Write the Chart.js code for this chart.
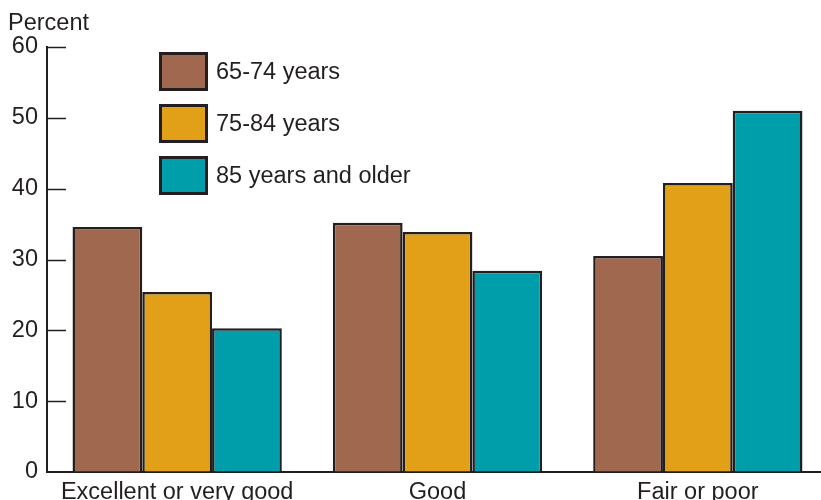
<!DOCTYPE html>
<html>
<head>
<meta charset="utf-8">
<script src="https://cdn.jsdelivr.net/npm/chart.js@4"></script>
<style>
  html, body { margin: 0; padding: 0; background: #fff; overflow: hidden; }
  #wrap { position: relative; width: 821px; height: 500px; overflow: hidden; }
  #holder { position: absolute; left: 0; top: 0; width: 840px; height: 500px; }
  .lbl { position: absolute; font-family: "Liberation Sans", Arial, sans-serif; color: #231f20; }
  #ytitle { left: 8px; top: 9px; font-size: 23.5px; }
  .leg { position: absolute; left: 159px; height: 39px; display: flex; align-items: center; }
  .leg .box { width: 43px; height: 33px; border: 3px solid #231f20; margin-right: 8px; }
  .leg span { font-family: "Liberation Sans", Arial, sans-serif; font-size: 23.5px; color: #231f20; }
</style>
</head>
<body>
<div id="wrap">
  <div id="holder"><canvas id="healthchart" width="840" height="500"></canvas></div>
  <div id="ytitle" class="lbl">Percent</div>
  <div id="legend"></div>
</div>
<script>
(function (glob) {
  'use strict';

  const categories = ['Excellent or very good', 'Good', 'Fair or poor']
  const seriesNames = ['65-74 years', '75-84 years', '85 years and older']
  const age65to74 = [34.6, 35.2, 30.5]
  const age75to84 = [25.4, 33.9, 40.8]
  const age85plus = [20.3, 28.4, 51.0]
  const seriesColors = ['#a0684f', '#e2a019', '#009daa']
  const yTicks = [0, 10, 20, 30, 40, 50, 60]

  const ink = '#231f20'
  const font = 'Liberation Sans, Arial, sans-serif'

  // legend as plain html, stacked like the original
  const legend = document.getElementById('legend')
  seriesNames.forEach((name, i) => {
    const row = document.createElement('div')
    row.className = 'leg'
    row.style.top = (52 + i * 52) + 'px'
    row.innerHTML = '<div class="box" style="background:' + seriesColors[i] + '"></div><span>' + name + '</span>'
    legend.appendChild(row)
  })

  // short tick marks pointing into the plot
  const innerTicks = {
    id: 'innerTicks',
    afterDraw(chart) {
      const y = chart.scales.y, left = chart.chartArea.left
      const c = chart.ctx
      c.save()
      c.strokeStyle = ink
      c.lineWidth = 1.5
      yTicks.forEach((v) => {
        if (v === 0) return
        const py = Math.round(y.getPixelForValue(v)) + 0.5
        c.beginPath()
        c.moveTo(left, py)
        c.lineTo(left + 19, py)
        c.stroke()
      })
      c.restore()
    }
  }

  const data = {
    labels: categories,
    datasets: [age65to74, age75to84, age85plus].map((vals, i) => ({
      label: seriesNames[i],
      data: vals,
      backgroundColor: seriesColors[i],
      borderColor: ink,
      borderWidth: 2.5,
      borderSkipped: 'bottom'
    }))
  }

  new Chart(document.getElementById('healthchart'), {
    type: 'bar',
    data: data,
    plugins: [innerTicks],
    options: {
      responsive: false,
      animation: false,
      datasets: { bar: { categoryPercentage: 0.804, barPercentage: 1.0 } },
      layout: { padding: { top: 47, right: 12, left: 0, bottom: 0 } },
      plugins: { legend: { display: false }, tooltip: { enabled: false } },
      scales: {
        x: {
          grid: { display: false, drawTicks: false },
          border: { display: true, color: ink, width: 2 },
          ticks: { color: ink, font: { family: font, size: 23.5 }, padding: 6, maxRotation: 0 },
          afterFit(scale) { scale.height = 28 }
        },
        y: {
          min: 0,
          max: 60,
          grid: { drawOnChartArea: false, drawTicks: false },
          border: { display: true, color: ink, width: 2 },
          ticks: {
            stepSize: 10,
            color: ink,
            padding: 9,
            font: { family: font, size: 23.5 }
          },
          afterFit(scale) { scale.width = 47 }
        }
      }
    }
  })

}(typeof window !== 'undefined' ? window : global))
</script>
</body>
</html>
